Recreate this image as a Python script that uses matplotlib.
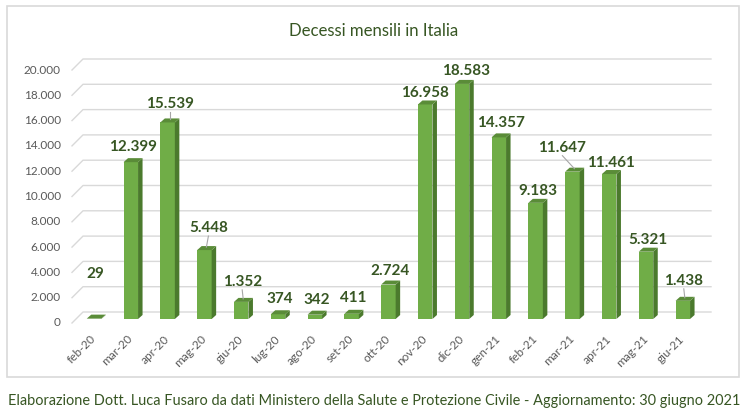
import numpy as np
import matplotlib
matplotlib.use("Agg")
import matplotlib.pyplot as plt
from matplotlib.patches import Polygon, Rectangle
from matplotlib.lines import Line2D
import matplotlib.transforms as mtransforms

# data
months = ["feb-20", "mar-20", "apr-20", "mag-20", "giu-20", "lug-20", "ago-20", "set-20",
          "ott-20", "nov-20", "dic-20", "gen-21", "feb-21", "mar-21", "apr-21", "mag-21", "giu-21"]
deaths = [29, 12399, 15539, 5448, 1352, 374, 342, 411,
          2724, 16958, 18583, 14357, 9183, 11647, 11461, 5321, 1438]
yticks = list(range(0, 20001, 2000))

title = "Decessi mensili in Italia"
footer = ("Elaborazione Dott. Luca Fusaro da dati Ministero della Salute e Protezione Civile"
          " - Aggiornamento: 30 giugno 2021")

# label placement tweaks (pixels): lift above bar top, horizontal shift
label_dy = [45, 15, 18, 22, 20, 15, 15, 16, 14, 11, 13, 14, 12, 24, 11, 12, 20]
label_dx = [1, 2, 2, 4, 1, 2, 2, 2, 2, 0, 4, 2, 2, -10, 2, 2, 1]

FRONT = "#70AD47"
SIDE = "#4B7A2D"
TOP = "#5A8C38"
DKGREEN = "#375623"
GRID = "#D9D9D9"
TICK = "#595959"

W, H, DPI = 749, 417, 100
fig = plt.figure(figsize=(W / DPI, H / DPI), dpi=DPI)

# axes in pixel units
ax_l, ax_r, ax_b, ax_t = 72, 711, 319, 66
ax = fig.add_axes([ax_l / W, 1 - ax_b / H, (ax_r - ax_l) / W, (ax_b - ax_t) / H])
step = 36.8
x0 = 94
xlim = ((ax_l - x0) / step, (ax_r - x0) / step)
ax.set_xlim(*xlim)
ax.set_ylim(0, 20000)
for s in ax.spines.values():
    s.set_visible(False)
ax.patch.set_alpha(0)

ux = (xlim[1] - xlim[0]) / (ax_r - ax_l)   # data units per px, x
uy = 20000 / (ax_b - ax_t)                  # data units per px, y

x = np.arange(len(months))
bw = 14.5 * ux
ddx, ddy = 4.5 * ux, 4 * uy

# gridlines (3D floor/back wall look)
for t in yticks:
    ax.add_line(Line2D([xlim[0], xlim[0] + 11 * ux, xlim[1]],
                       [t - 4 * uy, t + 7 * uy, t + 7 * uy],
                       color=GRID, lw=1, zorder=0, clip_on=False))

ax.bar(x, deaths, width=bw, color=FRONT, zorder=3, clip_on=False)
for xi, v in zip(x, deaths):
    r = xi + bw / 2
    l = xi - bw / 2
    ax.add_patch(Polygon([(r, 0), (r + ddx, ddy), (r + ddx, v + ddy), (r, v)],
                         closed=True, color=SIDE, zorder=3, clip_on=False, lw=0))
    ax.add_patch(Polygon([(l, v), (l + ddx, v + ddy), (r + ddx, v + ddy), (r, v)],
                         closed=True, color=TOP, zorder=3, clip_on=False, lw=0))

# data labels
for xi, v, dy, dx in zip(x, deaths, label_dy, label_dx):
    lbl = f"{v:,}".replace(",", ".")
    lx, ly = xi + dx * ux, v + dy * uy
    ax.text(lx, ly, lbl, ha="center", va="center", fontsize=11, fontweight="bold",
            family="Lato", color=DKGREEN, zorder=5)
    if dy >= 18 and v > 1000:
        ax.add_line(Line2D([lx, xi + 2 * ux], [ly - 8 * uy, v + 3 * uy],
                           color="#A6A6A6", lw=0.8, zorder=4))

# y tick labels
ax.set_yticks(yticks)
ax.set_yticklabels([f"{t:,}".replace(",", ".") for t in yticks])
ax.tick_params(axis="y", length=0, pad=8, labelsize=8.5, labelcolor=TICK)
shift = mtransforms.ScaledTranslation(0, -3 / DPI, fig.dpi_scale_trans)
for lab in ax.get_yticklabels():
    lab.set_family("Lato")
    lab.set_transform(lab.get_transform() + shift)

# x tick labels
ax.set_xticks(x)
ax.set_xticklabels(months, rotation=45, ha="right", va="center", rotation_mode="anchor")
ax.tick_params(axis="x", length=0, pad=13, labelsize=8.5, labelcolor=TICK)
for lab in ax.get_xticklabels():
    lab.set_family("Lato")

# chart frame, title, footer
fig.add_artist(Rectangle((7 / W, 1 - 377 / H), (739 - 7) / W, (377 - 6) / H,
                         transform=fig.transFigure, fill=False, ec=GRID, lw=1.2))
t_title = fig.text(374 / W, 1 - 31 / H, title, ha="center", va="center", fontsize=13,
                   family="Lato", color=DKGREEN)
t_foot = fig.text(8 / W, 1 - 401 / H, footer, ha="left", va="center", fontsize=11,
                  family="Lato", color=DKGREEN)

# shrink texts to the widths seen in the reference (Calibri is narrower than Lato)
renderer = fig.canvas.get_renderer()
for txt, target in [(t_title, 170), (t_foot, 729)]:
    wpx = txt.get_window_extent(renderer).width
    txt.set_fontsize(txt.get_fontsize() * target / wpx)

fig.savefig("out.png", dpi=DPI)
